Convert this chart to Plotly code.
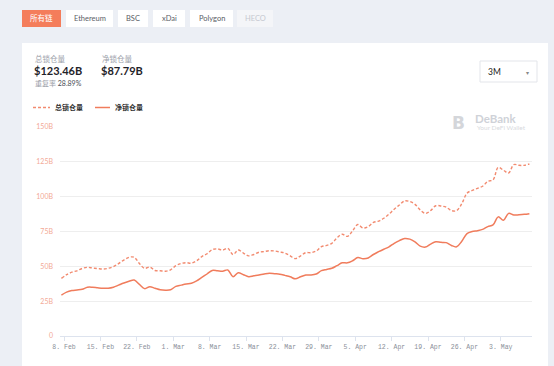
import pandas as pd
import plotly.graph_objects as go

# ---------------- data ----------------
start_date = "2021-02-07 12:00"
n_days = 91
total_tvl = [41.4, 44, 45.8, 46.8, 48.5, 49.3, 48.8, 48.4, 48.1, 48.6,
             49.8, 52, 54.5, 56.5, 56.5, 52, 48.5, 49.5, 47, 46.8,
             46.5, 47.5, 50.5, 52, 52.6, 52.3, 54, 57, 59, 62,
             62.5, 61.7, 62.9, 58.5, 61.7, 59.5, 57.5, 58.5, 60.1, 60.6,
             61.2, 61, 60.3, 59.5, 57.5, 55.5, 57.5, 59.8, 59.8, 61,
             64.1, 65, 66.5, 70.5, 73, 71.5, 75.5, 80, 77.5, 78.5,
             81.5, 82.5, 84.5, 87.5, 91, 94, 97, 96.5, 94.5, 90.5,
             88, 90, 93.5, 93.3, 92.5, 90, 90, 95, 102.5, 104.5,
             106, 107.5, 111, 112, 121, 119, 117, 123, 122.5, 122.5,
             123.46]
net_tvl = [29.4, 31.5, 32.6, 33, 33.5, 35, 35, 34.6, 34.3, 34.3,
           35, 36.5, 38, 39.3, 40.2, 37, 34, 35.4, 34.3, 33.2,
           32.9, 33.2, 35.6, 36.5, 37.3, 37.8, 39.5, 42, 44.5, 47,
           46.8, 46.5, 47.4, 42.5, 45.4, 44, 42.6, 43.2, 43.8, 44.5,
           45, 44.7, 44.4, 43.5, 42.5, 41, 42.5, 43.8, 43.8, 44.5,
           46.9, 47.8, 48.6, 50.5, 52.5, 52.5, 54, 56.3, 55.5, 56,
           58.5, 60.5, 62.3, 64, 66.5, 68.5, 70, 69.5, 67.5, 64.5,
           63.8, 66, 67.7, 67.2, 67, 65, 64, 68, 73.5, 75,
           75.6, 76.5, 78.5, 79.7, 85.5, 83, 88, 86.8, 87, 87.3,
           87.79]
y_ticks = [0, 25, 50, 75, 100, 125, 150]
y_tick_labels = ["0", "25B", "50B", "75B", "100B", "125B", "150B"]
series_names = ["总锁仓量", "净锁仓量"]
tabs = ["所有链", "Ethereum", "BSC", "xDai", "Polygon", "HECO"]
total_value_text = "$123.46B"
net_value_text = "$87.79B"
dup_rate_text = "28.89%"

dates = pd.date_range(start_date, periods=n_days, freq="D")

# ---------------- layout geometry (pixels) ----------------
W, H = 554, 366
L, R, T, B = 60, 532, 127, 336


def px(x):
    return (x - L) / (R - L)


def py(y):
    return (B - y) / (B - T)


CJK = "Lato, Noto Sans CJK SC"
c_total = "#f28b70"
c_net = "#f07c5c"

fig = go.Figure()
fig.add_trace(go.Scatter(x=dates, y=total_tvl, mode="lines", name=series_names[0],
                         line=dict(color=c_total, width=1.4, dash="3px,2px"),
                         line_shape="spline", showlegend=False))
fig.add_trace(go.Scatter(x=dates, y=net_tvl, mode="lines", name=series_names[1],
                         line=dict(color=c_net, width=1.5),
                         line_shape="spline", showlegend=False))

shapes = []
ann = []

# white card
shapes.append(dict(type="rect", xref="paper", yref="paper", layer="below",
                   x0=px(22), x1=px(548), y0=py(372), y1=py(43),
                   fillcolor="white", line=dict(width=0)))

# tabs
tab_pos = [(22, 61), (66, 113), (118, 148), (153, 185), (190, 233), (237, 273)]
for i, (t, (a, b)) in enumerate(zip(tabs, tab_pos)):
    if i == 0:
        fill, fc = "#f47d5b", "white"
    elif t == "HECO":
        fill, fc = "#f4f5f8", "#c5c8d0"
    else:
        fill, fc = "white", "#5a5e66"
    shapes.append(dict(type="rect", xref="paper", yref="paper",
                       x0=px(a), x1=px(b), y0=py(27), y1=py(10),
                       fillcolor=fill, line=dict(width=0)))
    ann.append(dict(x=px((a + b) / 2), y=py(18.5), xref="paper", yref="paper",
                    text=t, showarrow=False, xanchor="center", yanchor="middle",
                    font=dict(family=CJK, size=7.5, color=fc)))

# header values
hdr = [
    dict(x=px(33), y=py(59), text=series_names[0], font=dict(family=CJK, size=7.5, color="#9a9ea8")),
    dict(x=px(100), y=py(59), text=series_names[1], font=dict(family=CJK, size=7.5, color="#9a9ea8")),
    dict(x=px(32), y=py(70.5), text="<b>" + total_value_text + "</b>", font=dict(family="Lato", size=11, color="#1f2329")),
    dict(x=px(99), y=py(70.5), text="<b>" + net_value_text + "</b>", font=dict(family="Lato", size=11, color="#1f2329")),
    dict(x=px(33), y=py(84), text="<span style='color:#9a9ea8'>重复率</span> " + dup_rate_text,
         font=dict(family=CJK, size=7, color="#4a4e56")),
]
for a in hdr:
    a.update(xref="paper", yref="paper", showarrow=False, xanchor="left", yanchor="middle")
ann += hdr

# legend (manual)
shapes.append(dict(type="line", xref="paper", yref="paper", x0=px(33), x1=px(50), y0=py(107.5), y1=py(107.5),
                   line=dict(color=c_total, width=1.4, dash="3px,2px")))
shapes.append(dict(type="line", xref="paper", yref="paper", x0=px(95), x1=px(110), y0=py(107.5), y1=py(107.5),
                   line=dict(color=c_net, width=1.5)))
for xx, t in [(53, series_names[0]), (113, series_names[1])]:
    ann.append(dict(x=px(xx), y=py(107.5), xref="paper", yref="paper", text="<b>" + t + "</b>",
                    showarrow=False, xanchor="left", yanchor="middle",
                    font=dict(family=CJK, size=7, color="#333")))

# 3M dropdown
shapes.append(dict(type="rect", xref="paper", yref="paper", x0=px(480), x1=px(537), y0=py(82), y1=py(61),
                   fillcolor="white", line=dict(color="#e3e5ea", width=1)))
ann.append(dict(x=px(486), y=py(71.5), xref="paper", yref="paper", text="3M", showarrow=False,
                xanchor="left", yanchor="middle", font=dict(family="Lato", size=8.5, color="#222")))
ann.append(dict(x=px(527), y=py(72), xref="paper", yref="paper", text="▾", showarrow=False,
                xanchor="center", yanchor="middle", font=dict(family="DejaVu Sans", size=6, color="#888")))

# DeBank watermark
ann.append(dict(x=px(458), y=py(123), xref="paper", yref="paper", text="<b>B</b>", showarrow=False,
                xanchor="center", yanchor="middle", font=dict(family="DejaVu Sans", size=17, color="#d4d6da")))
ann.append(dict(x=px(473), y=py(118), xref="paper", yref="paper", text="<b>DeBank</b>", showarrow=False,
                xanchor="left", yanchor="middle", font=dict(family="Lato", size=11.5, color="#cfd2d8")))
ann.append(dict(x=px(475), y=py(127.5), xref="paper", yref="paper", text="Your DeFi Wallet", showarrow=False,
                xanchor="left", yanchor="middle", font=dict(family="Lato", size=6.5, color="#d8dade")))

fig.update_layout(
    width=W, height=H, autosize=False,
    margin=dict(l=L, r=W - R, t=T, b=H - B, pad=0),
    paper_bgcolor="#eceff5", plot_bgcolor="rgba(0,0,0,0)",
    shapes=shapes, annotations=ann, showlegend=False,
)
fig.update_xaxes(
    type="date", range=["2021-02-07 05:30", "2021-05-09 00:00"],
    tick0="2021-02-08", dtick=7 * 86400000, tickformat="%-d. %b",
    showgrid=False, showline=True, linecolor="#dde3ee", linewidth=1,
    ticks="outside", ticklen=4, tickcolor="#dde3ee",
    tickfont=dict(family="Liberation Mono", size=6.5, color="#8a8f99"),
    zeroline=False, fixedrange=True,
)
fig.update_yaxes(
    range=[0, 150], tickvals=y_ticks, ticktext=y_tick_labels,
    showgrid=True, gridcolor="#eeeeee", gridwidth=1, zeroline=False,
    showline=False, ticks="", ticklabelstandoff=6,
    tickfont=dict(family="Lato", size=7, color="#f3a996"),
    fixedrange=True,
)

fig.write_html("out.html", post_script="document.body.style.margin='0';document.body.style.overflow='hidden';",
               config={"displayModeBar": False})
